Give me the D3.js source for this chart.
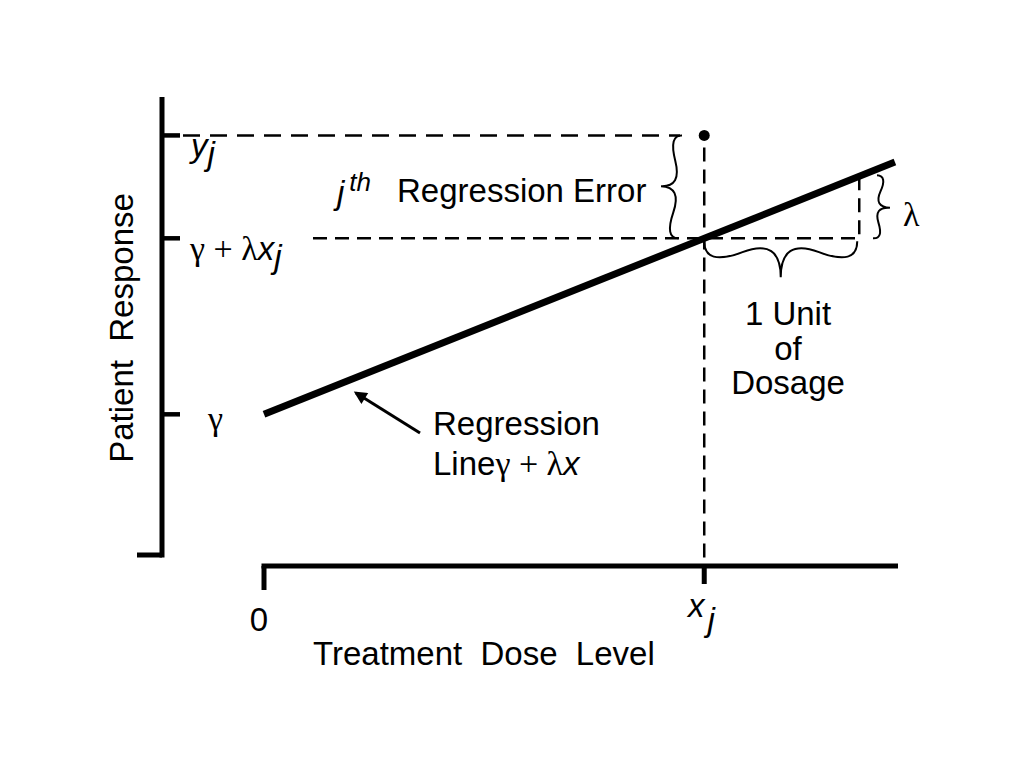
<html>
<head>
    <style>
        body { margin: 0; background: #fff; }
        .axis { stroke: #000; stroke-width: 5px; fill: none; }
        .dash { stroke: #000; stroke-width: 2.5px; stroke-dasharray: 14 8; fill: none; }
        .brace { stroke: #000; stroke-width: 2px; fill: none; }
        .lbl { font-family: "Liberation Sans", Arial, sans-serif; font-size: 33px; fill: #000; }
        .sym { font-family: "Liberation Serif", "Times New Roman", serif; font-size: 34px; }
        .it { font-style: italic; }
    </style>
</head>
<body>
<svg id="container" width="1024" height="768">
    <defs>
        <marker id="arrow" viewBox="0 0 10 10" refX="8" refY="5" markerWidth="18" markerHeight="13" orient="auto" markerUnits="userSpaceOnUse">
        </marker>
    </defs>
    <g id="body"></g>
</svg>
<script src="https://d3js.org/d3.v7.min.js"></script>
<script>
    // values (dose units on x, response units on y)
    const doseDomain = [0, 4.09]
    const responseDomain = [0, 7.39]
    const gamma = 2.27
    const lambda = 1.0
    const xj = 2.84
    const yj = 6.77
    const lineDose = [0, 4.07]
    const xTickValues = [0, xj]
    const xTickLabels = ["0", "x_j"]
    const yTickValues = [gamma, gamma + lambda * xj, yj]

    let svg = d3.select("#container")
    let body = d3.select("#body")

    let xScale = d3.scaleLinear().domain(doseDomain).range([264, 898])
    let yScale = d3.scaleLinear().domain(responseDomain).range([555, 97])
    let xAxisY = 566

    // arrow head
    svg.select("#arrow").append("path").attr("d", "M0,0 L10,5 L0,10 Z").attr("fill", "#000")

    // y axis
    body.append("line").attr("class", "axis")
        .attr("x1", 162).attr("x2", 162)
        .attr("y1", yScale(responseDomain[1])).attr("y2", yScale(0) + 2.5)
    body.append("line").attr("class", "axis")
        .attr("x1", 137).attr("x2", 162)
        .attr("y1", yScale(0)).attr("y2", yScale(0))
    body.selectAll(".ytick").data(yTickValues).enter().append("line")
        .attr("class", "axis")
        .attr("x1", 160).attr("x2", 180)
        .attr("y1", d => yScale(d)).attr("y2", d => yScale(d))
        .style("stroke-width", "4.5px")

    // x axis
    body.append("line").attr("class", "axis")
        .attr("x1", xScale(0) - 2.5).attr("x2", xScale(doseDomain[1]))
        .attr("y1", xAxisY).attr("y2", xAxisY)
    body.selectAll(".xtick").data(xTickValues).enter().append("line")
        .attr("class", "axis")
        .attr("x1", d => xScale(d)).attr("x2", d => xScale(d))
        .attr("y1", xAxisY).attr("y2", (d, i) => i == 0 ? 590 : 584)

    // dashed guides
    let fit = d => gamma + lambda * d
    body.append("line").attr("class", "dash")
        .attr("x1", 183).attr("x2", 680)
        .attr("y1", yScale(yj)).attr("y2", yScale(yj))
        .style("stroke-dasharray", "17 10")
    body.append("line").attr("class", "dash")
        .attr("x1", 313).attr("x2", xScale(xj + 1))
        .attr("y1", yScale(fit(xj))).attr("y2", yScale(fit(xj)))
    body.append("line").attr("class", "dash")
        .attr("x1", xScale(xj)).attr("x2", xScale(xj))
        .attr("y1", yScale(yj) + 12).attr("y2", xAxisY)
    body.append("line").attr("class", "dash")
        .attr("x1", xScale(xj + 1)).attr("x2", xScale(xj + 1))
        .attr("y1", yScale(fit(xj + 1))).attr("y2", yScale(fit(xj)))

    // regression line
    let line = d3.line().x(d => xScale(d)).y(d => yScale(fit(d)))
    body.append("path").datum(lineDose)
        .attr("d", line)
        .attr("stroke", "#000").attr("stroke-width", 7).attr("fill", "none")

    // observed point
    body.append("circle")
        .attr("cx", xScale(xj)).attr("cy", yScale(yj)).attr("r", 5.5)
        .attr("fill", "#000")

    // curly braces
    function brace(x1, y1, x2, y2, w, q) {
        let len = Math.hypot(x1 - x2, y1 - y2)
        let dx = (x1 - x2) / len, dy = (y1 - y2) / len
        let qx1 = x1 + q * w * dy, qy1 = y1 - q * w * dx
        let qx2 = (x1 - .25 * len * dx) + (1 - q) * w * dy, qy2 = (y1 - .25 * len * dy) - (1 - q) * w * dx
        let tx1 = (x1 - .5 * len * dx) + w * dy, ty1 = (y1 - .5 * len * dy) - w * dx
        let qx3 = x2 + q * w * dy, qy3 = y2 - q * w * dx
        let qx4 = (x1 - .75 * len * dx) + (1 - q) * w * dy, qy4 = (y1 - .75 * len * dy) - (1 - q) * w * dx
        return "M" + x1 + "," + y1 + " Q" + qx1 + "," + qy1 + " " + qx2 + "," + qy2 + " T" + tx1 + "," + ty1 +
            " M" + x2 + "," + y2 + " Q" + qx3 + "," + qy3 + " " + qx4 + "," + qy4 + " T" + tx1 + "," + ty1
    }
    // regression error brace (points left)
    body.append("path").attr("class", "brace")
        .attr("d", brace(682, yScale(yj), 678, yScale(fit(xj)), 19, 0.7))
    // one unit of dosage brace (points down)
    body.append("path").attr("class", "brace")
        .attr("d", brace(xScale(xj), yScale(fit(xj)) + 3, xScale(xj + 1) - 2, yScale(fit(xj)) + 3, 36, 0.7))
    // lambda brace (points right)
    body.append("path").attr("class", "brace")
        .attr("d", brace(873, yScale(fit(xj)), 877, yScale(fit(xj + 1)) - 1, 15, 0.7))

    // arrow to regression line
    body.append("line")
        .attr("x1", 420).attr("y1", 433).attr("x2", 356).attr("y2", 393)
        .attr("stroke", "#000").attr("stroke-width", 3)
        .attr("marker-end", "url(#arrow)")

    // ----- text -----
    function txt(x, y) {
        return body.append("text").attr("class", "lbl").attr("x", x).attr("y", y)
    }

    // y tick labels
    let t = txt(191, yScale(yj) + 22)
    t.append("tspan").attr("class", "it").text("y")
    t.append("tspan").attr("class", "it").attr("dy", 8).text("j")

    t = txt(190, yScale(fit(xj)) + 22)
    t.append("tspan").attr("class", "sym").text("\u03B3 + \u03BB")
    t.append("tspan").attr("class", "it").text("x")
    t.append("tspan").attr("class", "it").attr("dy", 8).text("j")

    txt(208, yScale(gamma) + 16).append("tspan").attr("class", "sym").text("\u03B3")

    // x tick labels
    txt(xScale(0) - 5, 631).attr("text-anchor", "middle").text(xTickLabels[0])
    t = txt(688, 617)
    t.append("tspan").attr("class", "it").text("x")
    t.append("tspan").attr("class", "it").attr("dx", 3).attr("dy", 14).text("j")

    // axis titles
    txt(313, 665).style("white-space", "pre").text("Treatment  Dose  Level")
    txt(0, 0).style("white-space", "pre")
        .attr("text-anchor", "middle")
        .attr("transform", "translate(133,328) rotate(-90)")
        .text("Patient  Response")

    // annotations
    t = txt(337, 204)
    t.append("tspan").attr("class", "it").text("j")
    t.append("tspan").attr("class", "it").attr("dx", 5).attr("dy", -13).style("font-size", "26px").text("th")
    txt(397, 202).text("Regression Error")

    txt(903, 226).append("tspan").attr("class", "sym").text("\u03BB")

    txt(788, 325).attr("text-anchor", "middle").text("1 Unit")
    txt(788, 360).attr("text-anchor", "middle").text("of")
    txt(788, 394).attr("text-anchor", "middle").text("Dosage")

    txt(433, 435).text("Regression")
    t = txt(433, 475)
    t.append("tspan").text("Line")
    t.append("tspan").attr("class", "sym").text("\u03B3 + \u03BB")
    t.append("tspan").attr("class", "it").text("x")
</script>
</body>
</html>
